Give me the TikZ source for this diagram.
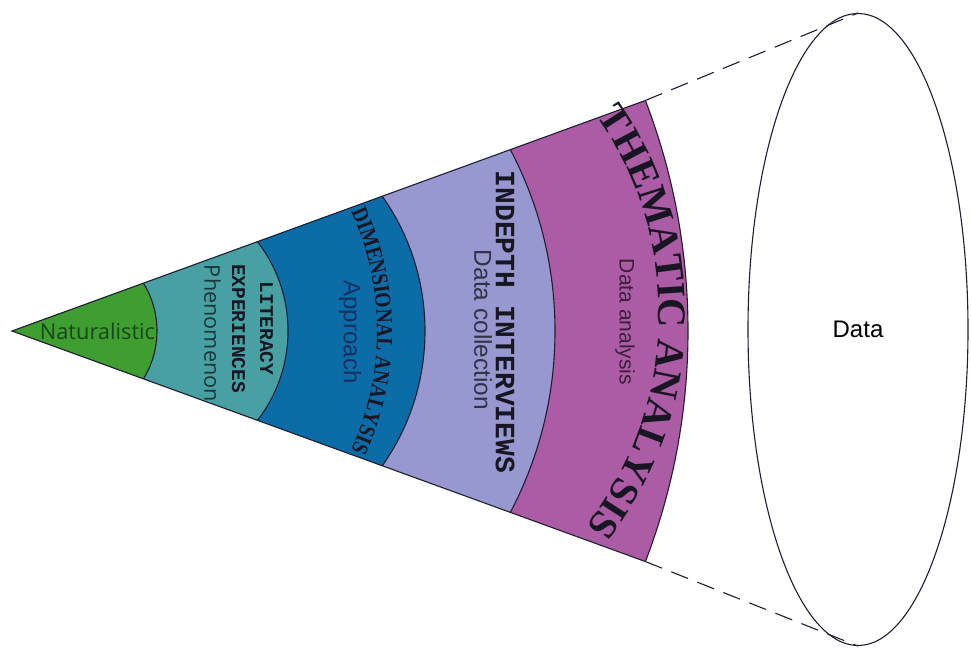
\documentclass[tikz,border=0pt]{standalone}
\usepackage{fontspec}
\usepackage{tikz}
\usetikzlibrary{shapes.geometric, decorations.text}
\setmainfont{Liberation Sans}
\newfontfamily\natfam{Open Sans}
\newfontfamily\typefam{Liberation Mono}
\newfontfamily\condfam[FakeStretch=0.85]{Liberation Serif}
\newfontfamily\seriffam{Liberation Serif}
\definecolor{bandgreen}{RGB}{62,158,48}
\definecolor{bandteal}{RGB}{72,160,162}
\definecolor{bandblue}{RGB}{12,108,168}
\definecolor{bandlav}{RGB}{152,152,208}
\definecolor{bandpink}{RGB}{172,92,164}
\definecolor{edgeink}{RGB}{30,30,50}
\definecolor{titleink}{RGB}{25,22,35}

\begin{document}
\begin{tikzpicture}[x=1pt, y=1pt,
  band/.style={draw=edgeink, line width=1.1pt},
  vlabel/.style={rotate=-90, inner sep=0pt},
  cone/.style={draw=edgeink, line width=1.1pt, dash pattern=on 18pt off 10pt}]
  \useasboundingbox (-12,-317) rectangle (959,331);
  \coordinate (apex) at (0,0);
  \coordinate (otop) at (20:673.9);
  \coordinate (obot) at (-20:673.9);
  % bands, outermost first
  \begin{scope}
    \clip (apex) -- (20:900) -- (-20:900) -- cycle;
    \foreach \c/\r/\col in {34/642/bandpink, 153/390/bandlav, 179/234/bandblue,
                            130/146/bandteal, 54/91/bandgreen}
      \draw[band, fill=\col] (\c,0) circle[radius=\r];
  \end{scope}
  \draw[band] (otop) -- (apex) -- (obot);

  \node[inner sep=0pt, text={rgb,255:red,25;green,70;blue,25},
        font=\natfam\fontsize{21.8}{24}\selectfont] (nat) at (85.5,0) {Naturalistic};
  \node[vlabel, align=center, text=titleink,
        font=\typefam\bfseries\fontsize{19.5}{28}\selectfont] (lit) at (240.5,2.5) {LITERACY\\EXPERIENCES};
  \node[vlabel, text={rgb,255:red,25;green,55;blue,60},
        font=\natfam\fontsize{21.7}{24}\selectfont] (phen) at (200.5,-2.5) {Phenomenon};
  \node[vlabel, text={rgb,255:red,15;green,50;blue,95},
        font=\fontsize{24}{26}\selectfont] (appr) at (338,-1) {Approach};
  \node[vlabel, text=titleink,
        font=\typefam\bfseries\fontsize{28}{30}\selectfont] (indepth) at (493,9) {INDEPTH INTERVIEWS};
  \node[vlabel, text={rgb,255:red,50;green,50;blue,70},
        font=\fontsize{24.4}{26}\selectfont] (coll) at (471,1) {Data collection};
  \node[vlabel, text={rgb,255:red,60;green,30;blue,60},
        font=\fontsize{21}{23}\selectfont] (anal) at (613,9) {Data analysis};

  % curved titles
  \path[decorate, decoration={text along path, text align=center,
        text={|\color{titleink}\condfam\bfseries\fontsize{23}{24}\selectfont|DIMENSIONAL ANALYSIS}}]
    (77,0) ++(30:288) arc[start angle=30, end angle=-30, radius=288];
  \path[decorate, decoration={text along path, text align=center,
        text={|\color{titleink}\seriffam\bfseries\fontsize{40.5}{42}\selectfont|THEMATIC ANALYSIS}}]
    (302,17) ++(40:345) arc[start angle=40, end angle=-43, radius=345];

  \node[ellipse, draw=edgeink, line width=1.1pt, minimum width=220pt, minimum height=632pt,
        inner sep=0pt, font=\fontsize{24}{26}\selectfont] (data) at (846,1.5) {Data};
  \draw[cone] (otop) -- (data.north);
  \draw[cone] (obot) -- (data.south);
\end{tikzpicture}
\end{document}
